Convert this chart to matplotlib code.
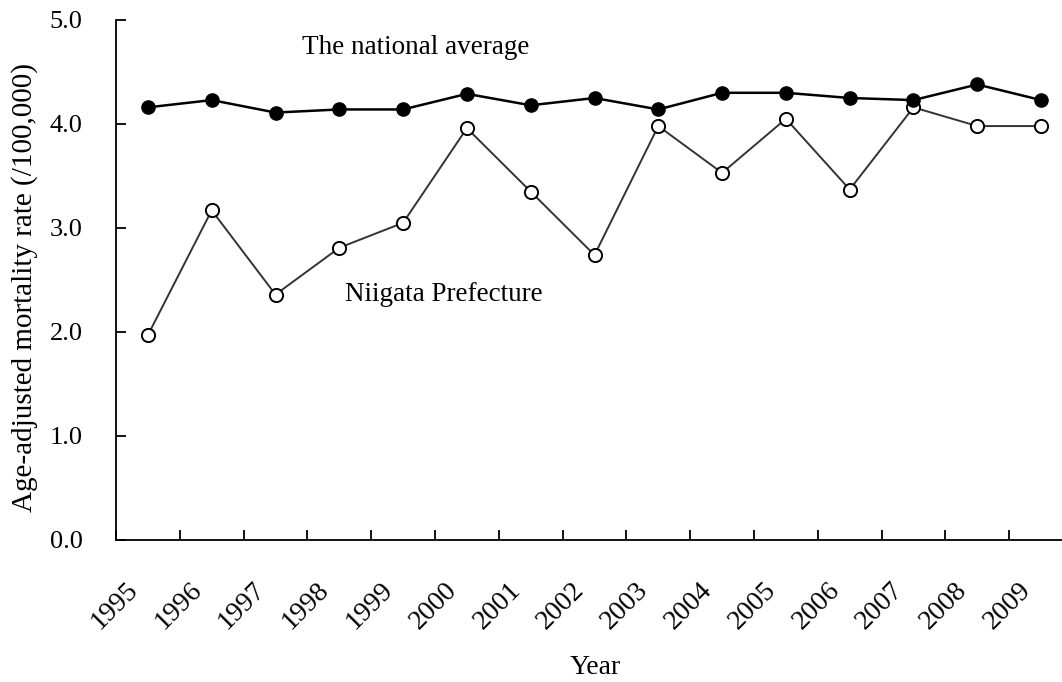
import matplotlib
matplotlib.use("Agg")
import matplotlib.pyplot as plt
import matplotlib.transforms as mtransforms
import numpy as np

years = ["1995", "1996", "1997", "1998", "1999", "2000", "2001", "2002",
         "2003", "2004", "2005", "2006", "2007", "2008", "2009"]
national = [4.16, 4.23, 4.11, 4.14, 4.14, 4.29, 4.18, 4.25,
            4.14, 4.30, 4.30, 4.25, 4.23, 4.38, 4.23]
niigata = [1.97, 3.17, 2.36, 2.81, 3.05, 3.96, 3.35, 2.74,
           3.98, 3.53, 4.05, 3.37, 4.16, 3.98, 3.98]
yticks = [0.0, 1.0, 2.0, 3.0, 4.0, 5.0]

plt.rcParams["font.family"] = ["Liberation Serif", "DejaVu Serif"]

fig = plt.figure(figsize=(10.62, 6.82), dpi=100)
ax = fig.add_axes([116 / 1062, 1 - 540 / 682, 957 / 1062, 520 / 682])

x = np.arange(len(years))
ax.plot(x, niigata, color="#333333", linewidth=1.4, marker="o", markersize=9.5,
        markerfacecolor="white", markeredgecolor="black", markeredgewidth=1.4, zorder=2)
ax.plot(x, national, color="black", linewidth=1.8, marker="o", markersize=9.5,
        markerfacecolor="black", markeredgecolor="black", zorder=3)

ax.set_xlim(-0.5, len(years) - 0.5)
ax.set_ylim(0, 5)
ax.set_yticks(yticks)
ax.set_yticklabels([f"{v:.1f}" for v in yticks], fontsize=19)

# category boundaries get the tick marks, labels sit at centres
ax.set_xticks(np.arange(len(years) + 1) - 0.5)
ax.set_xticklabels([])
ax.set_xticks(x, minor=True)
ax.set_xticklabels(years, minor=True, rotation=45, ha="right", va="top", fontsize=20)
ax.tick_params(axis="x", which="major", direction="in", length=7, width=1.3)
ax.tick_params(axis="x", which="minor", length=0, pad=27)
ax.tick_params(axis="y", direction="in", length=7, width=1.3, pad=24)
offset = mtransforms.ScaledTranslation(-5 / 100, 0, fig.dpi_scale_trans)
for lab in ax.get_xticklabels(minor=True):
    lab.set_transform(lab.get_transform() + offset)

for side in ["top", "right"]:
    ax.spines[side].set_visible(False)
ax.spines["left"].set_linewidth(1.3)
ax.spines["bottom"].set_linewidth(1.3)

ax.text(302 / 1062, 1 - 47 / 682, "The national average", transform=fig.transFigure,
        fontsize=19.5, ha="left", va="center")
ax.text(345 / 1062, 1 - 294 / 682, "Niigata Prefecture", transform=fig.transFigure,
        fontsize=19.5, ha="left", va="center")

fig.text(595 / 1062, 1 - 667 / 682, "Year", fontsize=20, ha="center", va="center")
fig.text(25 / 1062, 1 - 287 / 682, "Age-adjusted mortality rate (/100,000)", fontsize=21,
         rotation=90, ha="center", va="center")

fig.savefig("out.png", dpi=100)
